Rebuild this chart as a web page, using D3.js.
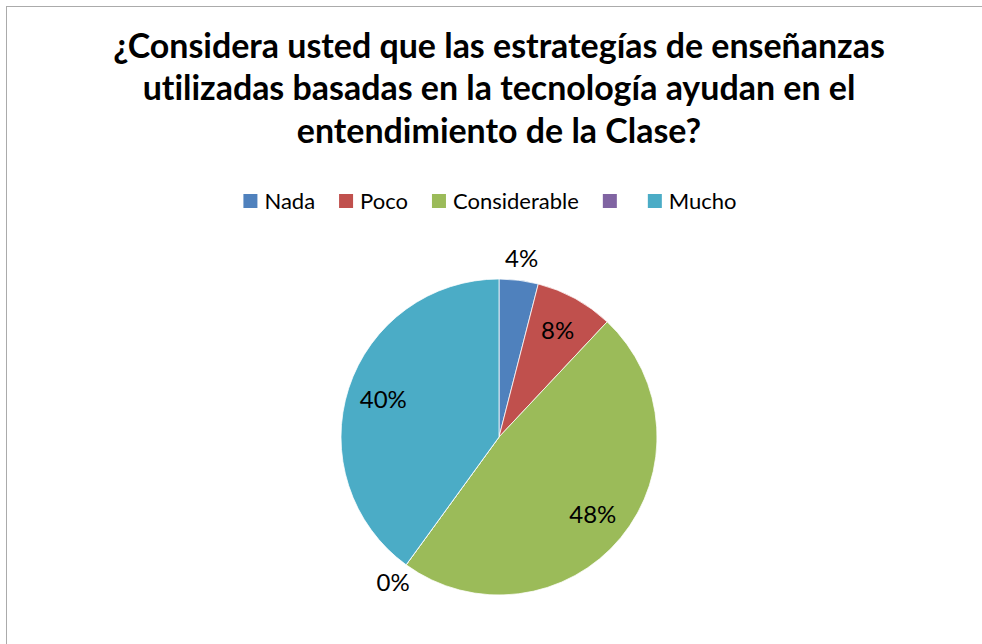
<!DOCTYPE html>
<html>
<head>
<meta charset="utf-8">
<script src="https://cdn.jsdelivr.net/npm/d3@7"></script>
<style>
  body { margin: 0; background: #fff; }
  svg { display: block; font-family: Lato, 'Open Sans', sans-serif; font-variant-ligatures: none; }
</style>
</head>
<body>
<svg id="chart" width="982" height="644"></svg>
<script>
const titleLines = [
  '¿Considera usted que las estrategías de enseñanzas',
  'utilizadas basadas en la tecnología ayudan en el',
  'entendimiento de la Clase?'
];
const categories = ['Nada', 'Poco', 'Considerable', '', 'Mucho'];
const percents = [4, 8, 48, 0, 40];
const colors = ['#4F81BD', '#C0504D', '#9BBB59', '#8064A2', '#4BACC6'];

const width = 982;
const height = 644;
const svg = d3.select('#chart');

// chart area border (only top and left edges show in the frame)
svg
  .append('rect')
  .attr('x', 6.5)
  .attr('y', 6.5)
  .attr('width', width + 10)
  .attr('height', height + 10)
  .attr('fill', '#fff')
  .attr('stroke', '#ababab')
  .attr('stroke-width', 1);

// title, fitted to the width of the first line
const title = svg
  .append('g')
  .attr('font-weight', 700)
  .attr('fill', '#000')
  .attr('text-anchor', 'middle');

const titleText = title
  .selectAll('text')
  .data(titleLines)
  .join('text')
  .attr('x', 499)
  .attr('y', (d, i) => 57.5 + i * 42.5)
  .style('font-size', '28px')
  .text(d => d);

const firstLen = titleText.node().getComputedTextLength();
titleText.style('font-size', `${(28 * 772) / firstLen}px`);

// legend
const legend = svg.append('g').style('font-size', '22px');
const items = legend
  .selectAll('g')
  .data(categories)
  .join('g');

items
  .append('rect')
  .attr('width', 14)
  .attr('height', 14)
  .attr('y', -7)
  .attr('fill', (d, i) => colors[i]);

items
  .append('text')
  .attr('x', 21)
  .attr('dy', '0.36em')
  .attr('fill', '#000')
  .text(d => d);

let cursor = 0;
const offsets = [];
items.each(function() {
  const w = d3.select(this).select('text').node().getComputedTextLength();
  offsets.push(cursor);
  cursor += 21 + w + 24;
});
const legendWidth = cursor - 24;
items.attr('transform', (d, i) => `translate(${offsets[i]},0)`);
legend.attr('transform', `translate(${490 - legendWidth / 2},201)`);

// pie
const cx = 499;
const cy = 437;
const radius = 158;

const pie = d3
  .pie()
  .sort(null)
  .value(d => d);

const arcs = pie(percents);
const arc = d3.arc().innerRadius(0).outerRadius(radius);

const plot = svg.append('g').attr('transform', `translate(${cx},${cy})`);

plot
  .selectAll('path')
  .data(arcs)
  .join('path')
  .attr('d', arc)
  .attr('fill', (d, i) => colors[i])
  .attr('stroke', '#fff')
  .attr('stroke-width', 0.75);

const inner = d3.arc().innerRadius(radius * 0.77).outerRadius(radius * 0.77);
const outer = d3.arc().innerRadius(radius * 1.14).outerRadius(radius * 1.14);

plot
  .selectAll('text')
  .data(arcs)
  .join('text')
  .attr('transform', d => {
    const p = d.data < 5 ? outer.centroid(d) : inner.centroid(d);
    return `translate(${p})`;
  })
  .attr('text-anchor', 'middle')
  .attr('dy', '0.36em')
  .style('font-size', '24px')
  .attr('fill', '#000')
  .text(d => `${d.data}%`);
</script>
</body>
</html>
